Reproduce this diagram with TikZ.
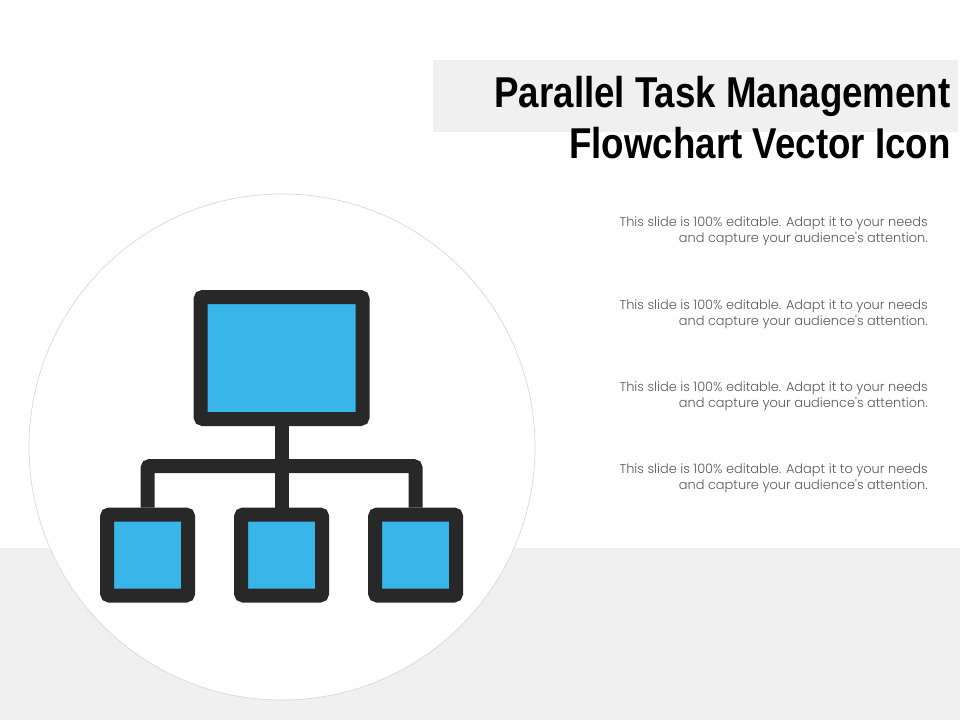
\documentclass[tikz,border=0pt]{standalone}
\usepackage{fontspec}
\setmainfont{Liberation Sans}
\newfontfamily\titlefont[FakeStretch=0.85]{Liberation Sans}
\newfontfamily\notefont{Poppins Light}
\usepackage{xcolor}
\definecolor{band}{HTML}{F0F0F0}
\definecolor{ink}{HTML}{282828}
\definecolor{sky}{HTML}{38B5E9}
\definecolor{notegray}{HTML}{595959}
\tikzset{
  bigbox/.style={draw=ink,fill=sky,line width=.35cm,rounded corners=.06cm,minimum width=4.05cm,minimum height=3.05cm},
  smallbox/.style={draw=ink,fill=sky,line width=.35cm,rounded corners=.06cm,minimum width=2.025cm,minimum height=2.025cm},
  link/.style={draw=ink,line width=.35cm,rounded corners=.06cm},
  headline/.style={align=right,anchor=east,inner sep=0pt,text=black,font=\titlefont\fontsize{30.7}{36.3}\bfseries\selectfont},
  note/.style={align=right,anchor=east,inner sep=0pt,text=notegray,font=\notefont\fontsize{9.2}{11.4}\selectfont},
}
\begin{document}
\begin{tikzpicture}
\useasboundingbox (0,0) rectangle (24,18);
\fill[white] (0,0) rectangle (24,18);
\fill[band] (0,0) rectangle (24,4.3);
\fill[band] (10.825,14.7) rectangle (23.95,16.5);
\draw[fill=white,draw=black!15,line width=.5pt] (7.05,6.825) circle (6.325);

\node[headline] (title) at (23.77,15.05) {Parallel Task Management\\Flowchart Vector Icon};

\node[note] (note1) at (23.2,12.225) {This slide is 100\% editable. Adapt it to your needs\\and capture your audience's attention.};
\node[note] (note2) at (23.2,10.15) {This slide is 100\% editable. Adapt it to your needs\\and capture your audience's attention.};
\node[note] (note3) at (23.2,8.1) {This slide is 100\% editable. Adapt it to your needs\\and capture your audience's attention.};
\node[note] (note4) at (23.2,6.05) {This slide is 100\% editable. Adapt it to your needs\\and capture your audience's attention.};

\node[bigbox] (top) at (7.04,9.05) {};
\node[smallbox] (left) at (3.69,4.125) {};
\node[smallbox] (mid) at (7.04,4.125) {};
\node[smallbox] (right) at (10.39,4.125) {};

\coordinate (busend) at (10.39,6.35);

\draw[link] (left.north) |- (busend) -- (right.north);
\draw[link] (top.south) -- (mid.north);

\end{tikzpicture}
\end{document}
